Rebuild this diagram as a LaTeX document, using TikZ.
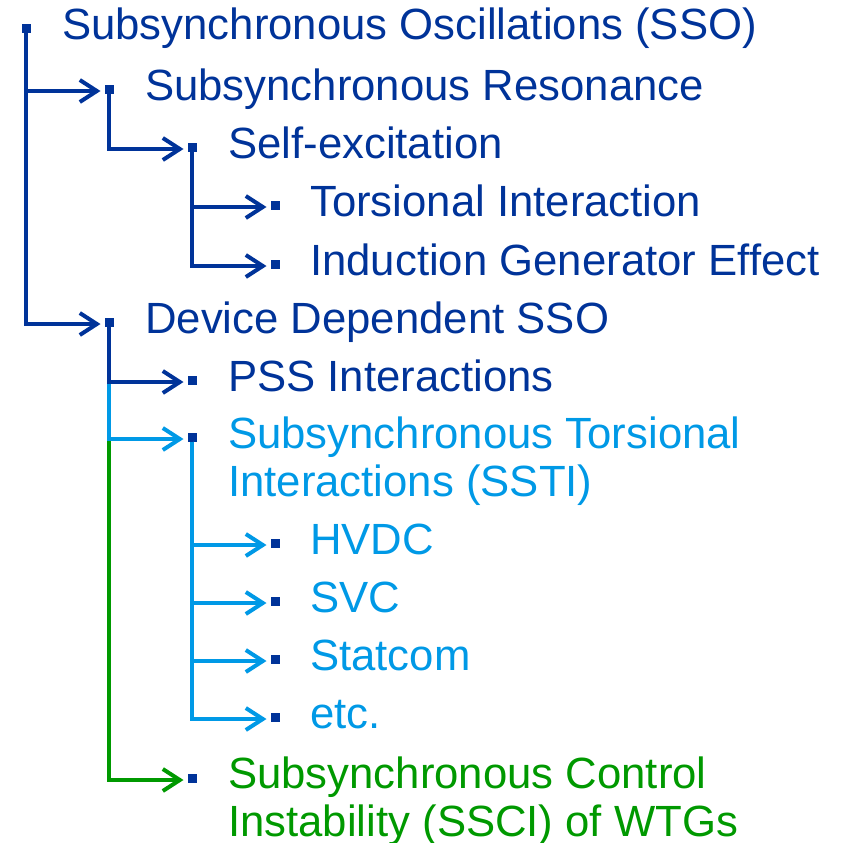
\documentclass[tikz,border=0pt]{standalone}
\usepackage{fontspec}
\setmainfont{Liberation Sans}
\usetikzlibrary{arrows.meta}
\definecolor{dkblue}{RGB}{0,51,153}
\definecolor{ltblue}{RGB}{0,153,230}
\definecolor{dkgreen}{RGB}{0,153,0}
\tikzset{
  bul/.style={fill=dkblue,draw=none,minimum size=9pt,inner sep=0pt,outer sep=0pt,rectangle},
  lbl/.style={anchor=base west,inner sep=0pt,font=\fontsize{43.7}{48}\selectfont},
  conn/.style={line width=4pt,-{Straight Barb[length=17pt,width=22pt,line width=4pt]},shorten >=4pt}
}
\begin{document}
\begin{tikzpicture}[x=1pt,y=-1pt]
\useasboundingbox (0,0) rectangle (842,843);
% bullets
\node[bul] (b0) at (26,29) {};
\node[bul] (b1) at (109,89) {};
\node[bul] (b2) at (192,147) {};
\node[bul] (b3) at (275,205) {};
\node[bul] (b4) at (275,264) {};
\node[bul] (b5) at (109,322) {};
\node[bul] (b6) at (192,380) {};
\node[bul] (b7) at (192,437) {};
\node[bul] (b8) at (275,543) {};
\node[bul] (b9) at (275,601) {};
\node[bul] (b10) at (275,659) {};
\node[bul] (b11) at (275,717) {};
\node[bul] (b12) at (192,778) {};
% labels
\node[lbl,text=dkblue] (t0) at (62,40) {Subsynchronous Oscillations (SSO)};
\node[lbl,text=dkblue] (t1) at (145,100) {Subsynchronous Resonance};
\node[lbl,text=dkblue] (t2) at (228,158) {Self-excitation};
\node[lbl,text=dkblue] (t3) at (310,216) {Torsional Interaction};
\node[lbl,text=dkblue] (t4) at (310,275) {Induction Generator Effect};
\node[lbl,text=dkblue] (t5) at (145,333) {Device Dependent SSO};
\node[lbl,text=dkblue] (t6) at (228,391) {PSS Interactions};
\node[lbl,text=ltblue] (t7) at (228,448) {Subsynchronous Torsional};
\node[lbl,text=ltblue] (t7b) at (228,496) {Interactions (SSTI)};
\node[lbl,text=ltblue] (t8) at (310,554) {HVDC};
\node[lbl,text=ltblue] (t9) at (310,612) {SVC};
\node[lbl,text=ltblue] (t10) at (310,670) {Statcom};
\node[lbl,text=ltblue] (t11) at (310,728) {etc.};
\node[lbl,text=dkgreen] (t12) at (228,788) {Subsynchronous Control};
\node[lbl,text=dkgreen] (t12b) at (228,836) {Instability (SSCI) of WTGs};
% connectors
\draw[conn,dkblue] (b0.south) |- ([yshift=-2pt]b5.west);
\draw[conn,dkblue] (b0.south) |- ([yshift=-2pt]b1.west);
\draw[conn,dkblue] (b1.south) |- ([yshift=-2pt]b2.west);
\draw[conn,dkblue] (b2.south) |- ([yshift=-2pt]b4.west);
\draw[conn,dkblue] (b2.south) |- ([yshift=-2pt]b3.west);
\draw[conn,dkgreen] (b5.south) |- ([yshift=-2pt]b12.west);
\draw[conn,ltblue] (b5.south) |- ([yshift=-2pt]b7.west);
\draw[conn,dkblue] (b5.south) |- ([yshift=-2pt]b6.west);
\draw[conn,ltblue] (b7.south) |- ([yshift=-2pt]b11.west);
\draw[conn,ltblue] (b7.south) |- ([yshift=-2pt]b10.west);
\draw[conn,ltblue] (b7.south) |- ([yshift=-2pt]b9.west);
\draw[conn,ltblue] (b7.south) |- ([yshift=-2pt]b8.west);
\end{tikzpicture}
\end{document}
